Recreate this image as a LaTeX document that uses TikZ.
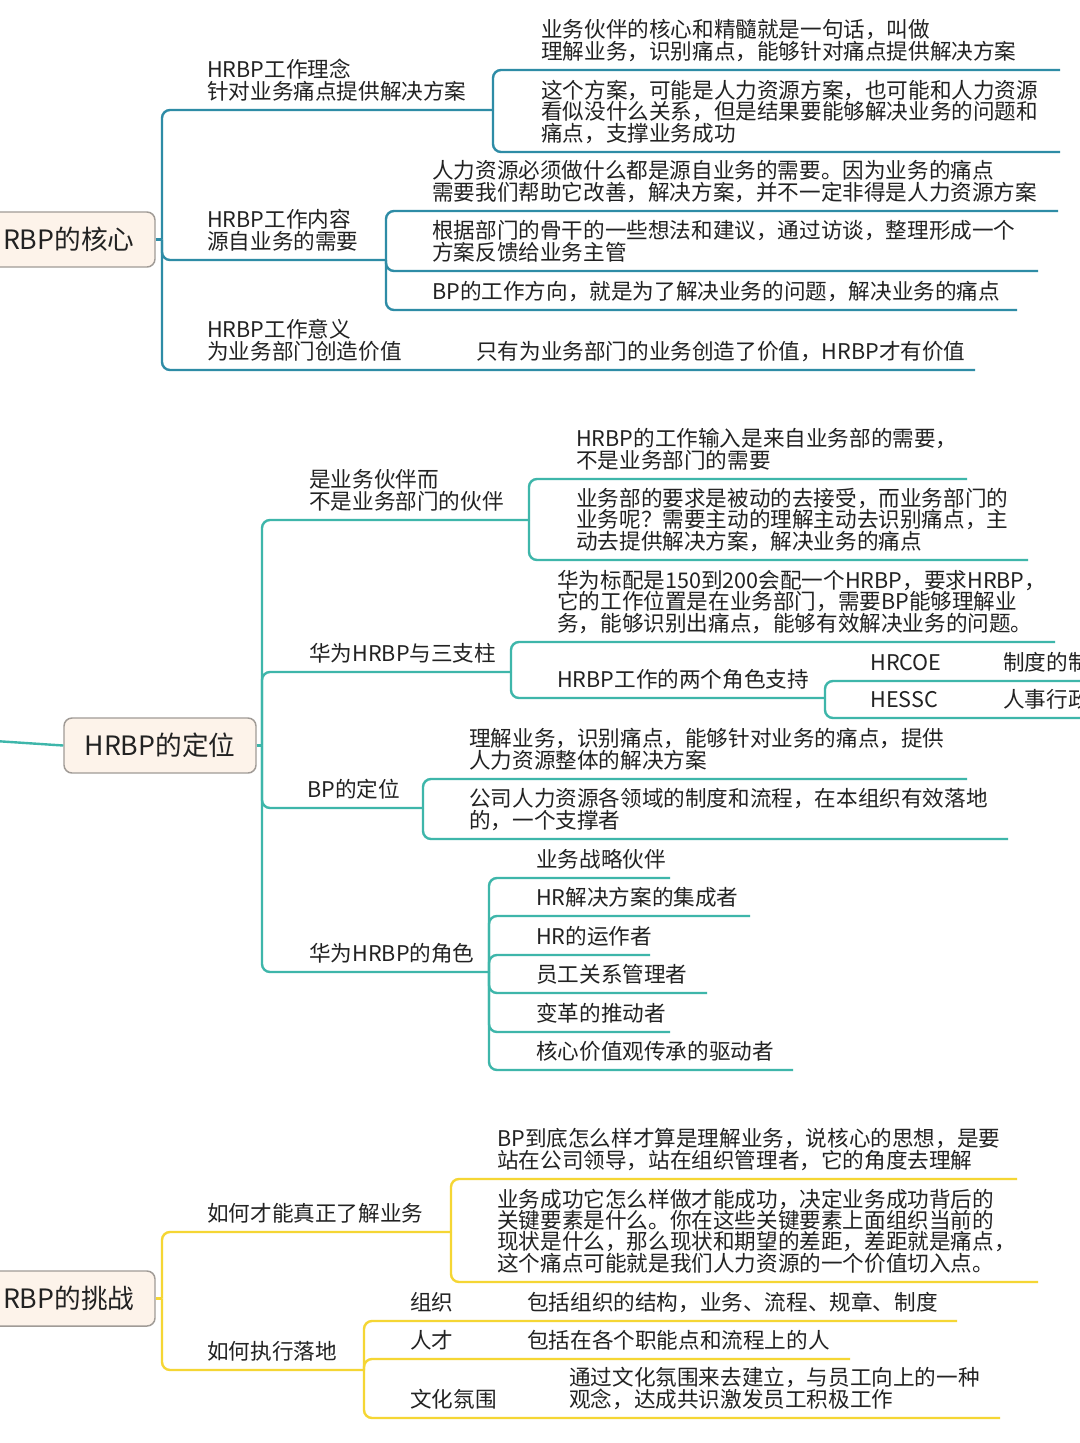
\documentclass[tikz,border=0pt]{standalone}
\usepackage{fontspec}
\setmainfont{Noto Sans CJK SC}
\definecolor{ctopc}{RGB}{46,140,166}
\definecolor{cmidc}{RGB}{62,182,170}
\definecolor{cbotc}{RGB}{245,214,52}
\definecolor{boxfill}{RGB}{253,243,234}
\definecolor{boxdraw}{RGB}{160,155,150}
\definecolor{txtc}{RGB}{34,34,34}
\newcommand\ml[1]{\vbox{\baselineskip=15.9pt\lineskiplimit=-30pt\lineskip=0pt\let\\\cr\halign{##\hfil\cr#1\crcr}}}
\begin{document}
\begin{tikzpicture}[x=0.75pt,y=-0.75pt,
  lbl/.style={anchor=base west, inner sep=0pt, text=txtc, font=\fontsize{16.2pt}{15.9pt}\selectfont},
  mainbox/.style={draw=boxdraw, fill=boxfill, line width=1.1pt, rounded corners=6pt, minimum width=144pt, minimum height=41.25pt, inner sep=0pt, text=txtc, font=\fontsize{20pt}{24pt}\selectfont},
  conn/.style={line width=1.8pt, rounded corners=6pt},
  ctop/.style={conn, draw=ctopc},
  cmid/.style={conn, draw=cmidc},
  cbot/.style={conn, draw=cbotc}]
\useasboundingbox (0,0) rectangle (1080,1443);
\fill[white] (0,0) rectangle (1080,1443);
\clip (0,0) rectangle (1080,1443);

% ---------------- TOP ----------------
\node[mainbox] (core) at (59,239.5) {HRBP的核心};
\coordinate (coreT) at (162,239.5);
\node[lbl] (b1) at (207,99) {\ml{HRBP工作理念\\针对业务痛点提供解决方案}};
\coordinate (b1e) at (493,110);
\node[lbl] (c11) at (541,59) {\ml{业务伙伴的核心和精髓就是一句话，叫做\\理解业务，识别痛点，能够针对痛点提供解决方案}};
\coordinate (c11e) at (1060,70);
\node[lbl] (c12) at (541,141) {\ml{这个方案，可能是人力资源方案，也可能和人力资源\\看似没什么关系，但是结果要能够解决业务的问题和\\痛点，支撑业务成功}};
\coordinate (c12e) at (1060,152);
\node[lbl] (b2) at (207,249) {\ml{HRBP工作内容\\源自业务的需要}};
\coordinate (b2e) at (386,260);
\node[lbl] (c21) at (432,200) {\ml{人力资源必须做什么都是源自业务的需要。因为业务的痛点\\需要我们帮助它改善，解决方案，并不一定非得是人力资源方案}};
\coordinate (c21e) at (1058,211);
\node[lbl] (c22) at (432,260) {\ml{根据部门的骨干的一些想法和建议，通过访谈，整理形成一个\\方案反馈给业务主管}};
\coordinate (c22e) at (1038,271);
\node[lbl] (c23) at (432,299) {BP的工作方向，就是为了解决业务的问题，解决业务的痛点};
\coordinate (c23e) at (1017,310);
\node[lbl] (b3) at (207,359) {\ml{HRBP工作意义\\为业务部门创造价值}};
\coordinate (b3e) at (440,370);
\node[lbl] (c31) at (476,359) {只有为业务部门的业务创造了价值，HRBP才有价值};
\coordinate (c31e) at (975,370);

\draw[ctop] (core.east) -- (coreT);
\draw[ctop] (coreT) |- (b1e);
\draw[ctop] (coreT) |- (b2e);
\draw[ctop] (coreT) |- (b3e) -- (c31e);
\draw[ctop] (b1e) |- (c11e);
\draw[ctop] (b1e) |- (c12e);
\draw[ctop] (b2e) |- (c21e);
\draw[ctop] (b2e) |- (c22e);
\draw[ctop] (b2e) |- (c23e);

% ---------------- MIDDLE ----------------
\coordinate (posIn) at (-5,741);
\node[mainbox] (pos) at (160,745.5) {HRBP的定位};
\coordinate (posT) at (262,745.5);
\node[lbl] (m1) at (309,509) {\ml{是业务伙伴而\\不是业务部门的伙伴}};
\coordinate (m1e) at (529,520);
\node[lbl] (m11) at (576,468) {\ml{HRBP的工作输入是来自业务部的需要，\\不是业务部门的需要}};
\coordinate (m11e) at (967,479);
\node[lbl] (m12) at (576,549) {\ml{业务部的要求是被动的去接受，而业务部门的\\业务呢？需要主动的理解主动去识别痛点，主\\动去提供解决方案，解决业务的痛点}};
\coordinate (m12e) at (1028,560);
\node[lbl] (m2) at (309,661) {华为HRBP与三支柱};
\coordinate (m2e) at (511,672);
\node[lbl] (m21) at (557,631) {\ml{华为标配是150到200会配一个HRBP，要求HRBP，\\它的工作位置是在业务部门，需要BP能够理解业\\务，能够识别出痛点，能够有效解决业务的问题。}};
\coordinate (m21e) at (1055,642);
\node[lbl] (m22) at (557,687) {HRBP工作的两个角色支持};
\coordinate (m22e) at (825,698);
\node[lbl] (m221) at (870,670) {HRCOE};
\node[lbl] (m221b) at (1003,670) {制度的制};
\coordinate (m221e) at (1090,681);
\node[lbl] (m222) at (870,707) {HESSC};
\node[lbl] (m222b) at (1003,707) {人事行政};
\coordinate (m222e) at (1090,718);
\node[lbl] (m3) at (307,797) {BP的定位};
\coordinate (m3e) at (423,808);
\node[lbl] (m31) at (469,768) {\ml{理解业务，识别痛点，能够针对业务的痛点，提供\\人力资源整体的解决方案}};
\coordinate (m31e) at (967,779);
\node[lbl] (m32) at (469,828) {\ml{公司人力资源各领域的制度和流程，在本组织有效落地\\的，一个支撑者}};
\coordinate (m32e) at (1008,839);
\node[lbl] (m4) at (309,961) {华为HRBP的角色};
\coordinate (m4e) at (489,972);
\node[lbl] (m41) at (536,867) {业务战略伙伴};
\coordinate (m41e) at (670,878);
\node[lbl] (m42) at (536,905) {HR解决方案的集成者};
\coordinate (m42e) at (750,916);
\node[lbl] (m43) at (536,944) {HR的运作者};
\coordinate (m43e) at (650,955);
\node[lbl] (m44) at (536,982) {员工关系管理者};
\coordinate (m44e) at (707,993);
\node[lbl] (m45) at (536,1021) {变革的推动者};
\coordinate (m45e) at (670,1032);
\node[lbl] (m46) at (536,1059) {核心价值观传承的驱动者};
\coordinate (m46e) at (793,1070);

\draw[cmid] (posIn) -- (pos.west);
\draw[cmid] (pos.east) -- (posT);
\draw[cmid] (posT) |- (m1e);
\draw[cmid] (posT) |- (m2e);
\draw[cmid] (posT) |- (m3e);
\draw[cmid] (posT) |- (m4e);
\draw[cmid] (m1e) |- (m11e);
\draw[cmid] (m1e) |- (m12e);
\draw[cmid] (m2e) |- (m21e);
\draw[cmid] (m2e) |- (m22e);
\draw[cmid] (m22e) |- (m221e);
\draw[cmid] (m22e) |- (m222e);
\draw[cmid] (m3e) |- (m31e);
\draw[cmid] (m3e) |- (m32e);
\draw[cmid] (m4e) |- (m41e);
\draw[cmid] (m4e) |- (m42e);
\draw[cmid] (m4e) |- (m43e);
\draw[cmid] (m4e) |- (m44e);
\draw[cmid] (m4e) |- (m45e);
\draw[cmid] (m4e) |- (m46e);

% ---------------- BOTTOM ----------------
\node[mainbox] (chal) at (59,1298.5) {HRBP的挑战};
\coordinate (chalT) at (162,1298.5);
\node[lbl] (n1) at (207,1221) {如何才能真正了解业务};
\coordinate (n1e) at (451,1232);
\node[lbl] (n11) at (497,1168) {\ml{BP到底怎么样才算是理解业务，说核心的思想，是要\\站在公司领导，站在组织管理者，它的角度去理解}};
\coordinate (n11e) at (1017,1179);
\node[lbl] (n12) at (497,1271) {\ml{业务成功它怎么样做才能成功，决定业务成功背后的\\关键要素是什么。你在这些关键要素上面组织当前的\\现状是什么，那么现状和期望的差距，差距就是痛点，\\这个痛点可能就是我们人力资源的一个价值切入点。}};
\coordinate (n12e) at (1038,1282);
\node[lbl] (n2) at (207,1359) {如何执行落地};
\coordinate (n2e) at (364,1370);
\node[lbl] (n21) at (410,1310) {组织};
\coordinate (n21m) at (490,1321);
\node[lbl] (n21b) at (527,1310) {包括组织的结构，业务、流程、规章、制度};
\coordinate (n21e) at (957,1321);
\node[lbl] (n22) at (410,1348) {人才};
\coordinate (n22m) at (490,1359);
\node[lbl] (n22b) at (527,1348) {包括在各个职能点和流程上的人};
\coordinate (n22e) at (850,1359);
\node[lbl] (n23) at (410,1407) {文化氛围};
\coordinate (n23m) at (530,1418);
\node[lbl] (n23b) at (569,1407) {\ml{通过文化氛围来去建立，与员工向上的一种\\观念，达成共识激发员工积极工作}};
\coordinate (n23e) at (1000,1418);

\draw[cbot] (chal.east) -- (chalT);
\draw[cbot] (chalT) |- (n1e);
\draw[cbot] (chalT) |- (n2e);
\draw[cbot] (n1e) |- (n11e);
\draw[cbot] (n1e) |- (n12e);
\draw[cbot] (n2e) |- (n21m) -- (n21e);
\draw[cbot] (n2e) |- (n22m) -- (n22e);
\draw[cbot] (n2e) |- (n23m) -- (n23e);
\end{tikzpicture}
\end{document}
